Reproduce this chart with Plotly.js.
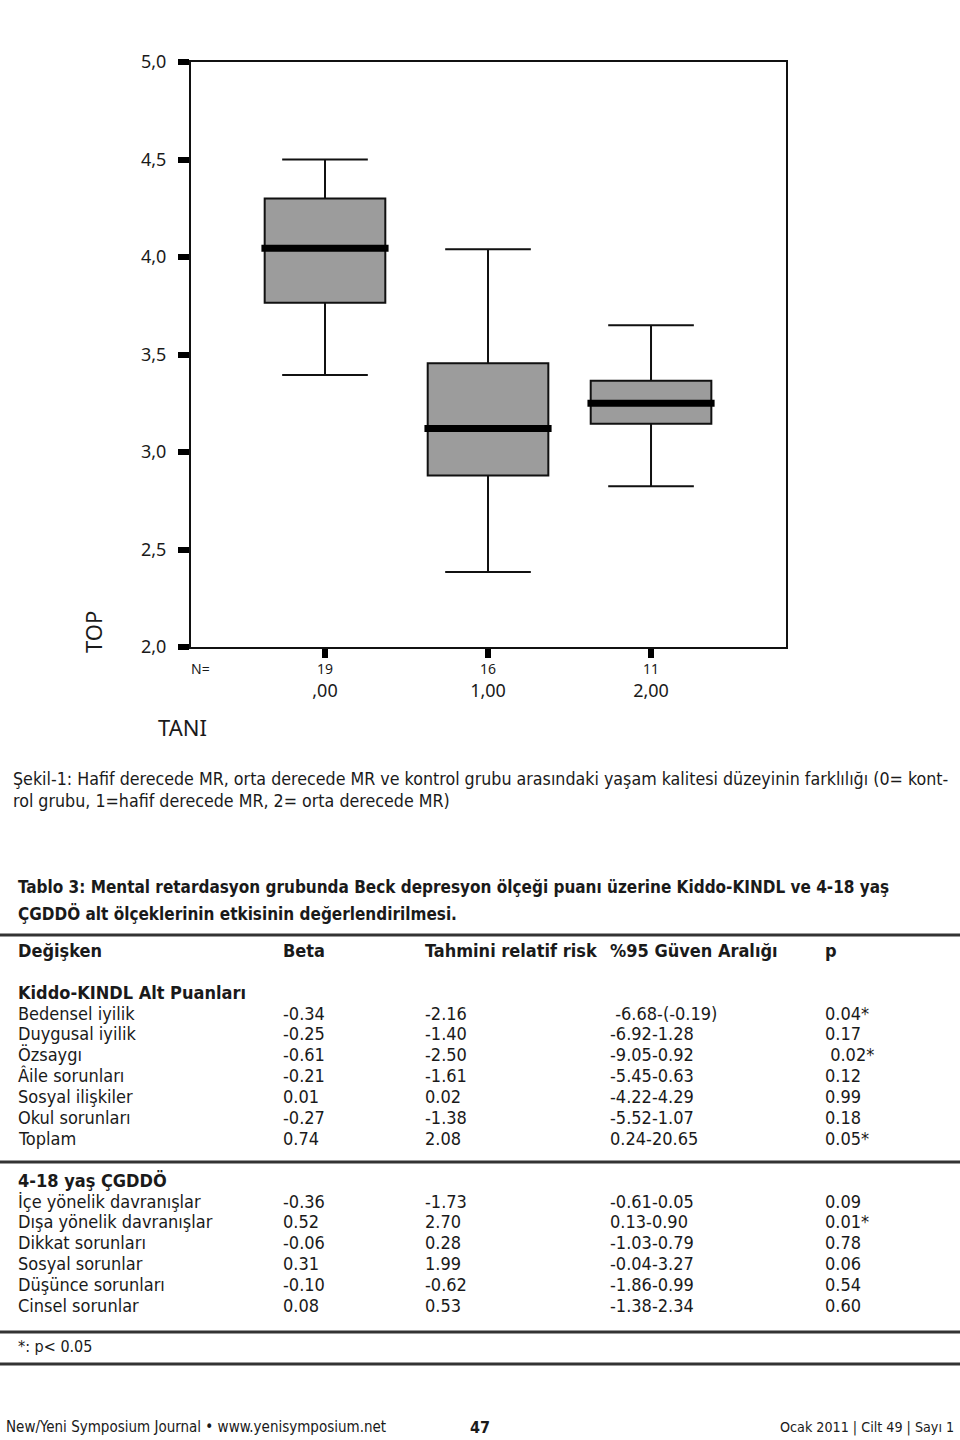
<!DOCTYPE html>
<html><head><meta charset="utf-8">
<script src="https://cdn.plot.ly/plotly-3.0.1.min.js"></script>
<style>html,body{margin:0;padding:0;background:#fff}</style>
</head><body><div id="chart" style="width:960px;height:1440px"></div>
<script>
// ---- box plot data (TOP by TANI) ----
const groups = [0, 1, 2];
const groupLabels = [',00', '1,00', '2,00'];
const groupN = ['19', '16', '11'];
const upperWhisker = [4.50, 4.04, 3.65];
const q3 = [4.30, 3.455, 3.365];
const median = [4.045, 3.12, 3.25];
const q1 = [3.765, 2.88, 3.145];
const lowerWhisker = [3.395, 2.385, 2.825];
const yTicks = [2.0, 2.5, 3.0, 3.5, 4.0, 4.5, 5.0];

// ---- texts ----
const captionLines = [
  'Şekil-1: Hafif derecede MR, orta derecede MR ve kontrol grubu arasındaki yaşam kalitesi düzeyinin farklılığı (0= kont-',
  'rol grubu, 1=hafif derecede MR, 2= orta derecede MR)'
];
const tableTitleLines = [
  'Tablo 3: Mental retardasyon grubunda Beck depresyon ölçeği puanı üzerine Kiddo-KINDL ve 4-18 yaş',
  'ÇGDDÖ alt ölçeklerinin etkisinin değerlendirilmesi.'
];
const headers = ['Değişken', 'Beta', 'Tahmini relatif risk', '%95 Güven Aralığı', 'p'];
const section1 = 'Kiddo-KINDL Alt Puanları';
const kiddoVars = ['Bedensel iyilik', 'Duygusal iyilik', 'Özsaygı', 'Âile sorunları', 'Sosyal ilişkiler', 'Okul sorunları', 'Toplam'];
const kiddoBeta = ['-0.34', '-0.25', '-0.61', '-0.21', '0.01', '-0.27', '0.74'];
const kiddoRR = ['-2.16', '-1.40', '-2.50', '-1.61', '0.02', '-1.38', '2.08'];
const kiddoCI = ['\u00a0-6.68-(-0.19)', '-6.92-1.28', '-9.05-0.92', '-5.45-0.63', '-4.22-4.29', '-5.52-1.07', '0.24-20.65'];
const kiddoP = ['0.04*', '0.17', '\u00a00.02*', '0.12', '0.99', '0.18', '0.05*'];
const section2 = '4-18 yaş ÇGDDÖ';
const cbclVars = ['İçe yönelik davranışlar', 'Dışa yönelik davranışlar', 'Dikkat sorunları', 'Sosyal sorunlar', 'Düşünce sorunları', 'Cinsel sorunlar'];
const cbclBeta = ['-0.36', '0.52', '-0.06', '0.31', '-0.10', '0.08'];
const cbclRR = ['-1.73', '2.70', '0.28', '1.99', '-0.62', '0.53'];
const cbclCI = ['-0.61-0.05', '0.13-0.90', '-1.03-0.79', '-0.04-3.27', '-1.86-0.99', '-1.38-2.34'];
const cbclP = ['0.09', '0.01*', '0.78', '0.06', '0.54', '0.60'];
const footnote = '*: p< 0.05';
const footerLeft = 'New/Yeni Symposium Journal • www.yenisymposium.net';
const footerPage = '47';
const footerRight = 'Ocak 2011 | Cilt 49 | Sayı 1';

// ---- layout helpers ----
const W = 960, H = 1440;
const PX = x => x / W;
const PY = y => 1 - y / H;
const plotFont = 'Noto Sans, Open Sans, sans-serif';
const condFont = 'Liberation Sans Narrow, DejaVu Sans Condensed, sans-serif';
const ink = '#1a1a1a';

const boxWidth = 0.74;
const traces = [
  {
    type: 'box', x: groups, q1: q1, median: median, q3: q3,
    lowerfence: lowerWhisker, upperfence: upperWhisker,
    width: boxWidth, whiskerwidth: 0.71, boxpoints: false,
    fillcolor: '#9c9c9c', line: {color: '#111', width: 2},
    hoverinfo: 'skip', showlegend: false
  }
];
// thick median bars
groups.forEach((g, i) => {
  traces.push({
    type: 'scatter', mode: 'lines',
    x: [g - boxWidth / 2 - 0.02, g + boxWidth / 2 + 0.02],
    y: [median[i], median[i]],
    line: {color: '#000', width: 7}, hoverinfo: 'skip', showlegend: false
  });
});

const ann = [];
function txt(x, y, text, opts) {
  ann.push(Object.assign({
    xref: 'paper', yref: 'paper', x: PX(x), y: PY(y), text: text,
    showarrow: false, xanchor: 'left', yanchor: 'middle',
    font: {family: condFont, size: 18, color: ink}
  }, opts || {}));
}

// plot texts
txt(200, 668, 'N=', {xanchor: 'center', font: {family: plotFont, size: 14, color: ink}});
groups.forEach((g, i) => {
  ann.push({xref: 'x', yref: 'paper', x: g, y: PY(668), text: groupN[i], showarrow: false,
    xanchor: 'center', yanchor: 'middle', font: {family: plotFont, size: 14, color: ink}});
});
txt(182, 727, 'TANI', {xanchor: 'center', font: {family: plotFont, size: 22, color: ink}});
txt(93, 632, 'TOP', {xanchor: 'center', textangle: -90, font: {family: plotFont, size: 22, color: ink}});

// caption
captionLines.forEach((t, i) => txt(11, 779 + i * 22, t, {font: {family: condFont, size: 17.7, color: ink}}));
// table title
tableTitleLines.forEach((t, i) => txt(16, 887 + i * 26, t, {font: {family: condFont, size: 17, color: ink, weight: 700}}));

// table
const colX = [16, 281, 423, 608, 823];
headers.forEach((h, j) => txt(colX[j], 950, h, {font: {family: condFont, size: 18, color: ink, weight: 700}}));
txt(16, 992, section1, {font: {family: condFont, size: 18, color: ink, weight: 700}});
const step = 20.85;
kiddoVars.forEach((v, i) => {
  const y = 1013 + i * step;
  [v, kiddoBeta[i], kiddoRR[i], kiddoCI[i], kiddoP[i]].forEach((c, j) => txt(colX[j], y, c));
});
txt(16, 1180, section2, {font: {family: condFont, size: 18, color: ink, weight: 700}});
cbclVars.forEach((v, i) => {
  const y = 1201 + i * step;
  [v, cbclBeta[i], cbclRR[i], cbclCI[i], cbclP[i]].forEach((c, j) => txt(colX[j], y, c));
});
txt(16, 1346, footnote, {font: {family: condFont, size: 16, color: ink}});

// footer
txt(4, 1427, footerLeft, {font: {family: condFont, size: 15, color: ink}});
txt(480, 1427, footerPage, {xanchor: 'center', font: {family: condFont, size: 16, color: ink, weight: 700}});
txt(956, 1427, footerRight, {xanchor: 'right', font: {family: condFont, size: 14.2, color: ink}});

// rules
const ruleY = [935, 1162, 1332, 1364];
const shapes = ruleY.map(y => ({
  type: 'line', xref: 'paper', yref: 'paper', x0: 0, x1: 1, y0: PY(y), y1: PY(y),
  line: {color: '#333', width: 3}
}));

const layout = {
  width: W, height: H, margin: {l: 0, r: 0, t: 0, b: 0},
  paper_bgcolor: '#fff', plot_bgcolor: '#fff',
  separators: ',.', showlegend: false,
  xaxis: {
    domain: [PX(191), PX(786)], range: [-0.822, 2.828],
    tickvals: groups, ticktext: groupLabels,
    ticks: 'outside', ticklen: 9, tickwidth: 6, tickcolor: '#000',
    showline: true, mirror: true, linecolor: '#111', linewidth: 2,
    showgrid: false, zeroline: false, ticklabelstandoff: 17,
    tickfont: {family: plotFont, size: 18, color: ink}, fixedrange: true
  },
  yaxis: {
    domain: [PY(647), PY(62)], range: [2, 5],
    tickvals: yTicks, tickformat: '.1f',
    ticks: 'outside', ticklen: 11, tickwidth: 6, tickcolor: '#000',
    showline: true, mirror: true, linecolor: '#111', linewidth: 2,
    showgrid: false, zeroline: false, ticklabelstandoff: 8,
    tickfont: {family: plotFont, size: 18, color: ink}, fixedrange: true
  },
  annotations: ann, shapes: shapes
};
Plotly.newPlot('chart', traces, layout, {staticPlot: true, displayModeBar: false});
</script></body></html>
